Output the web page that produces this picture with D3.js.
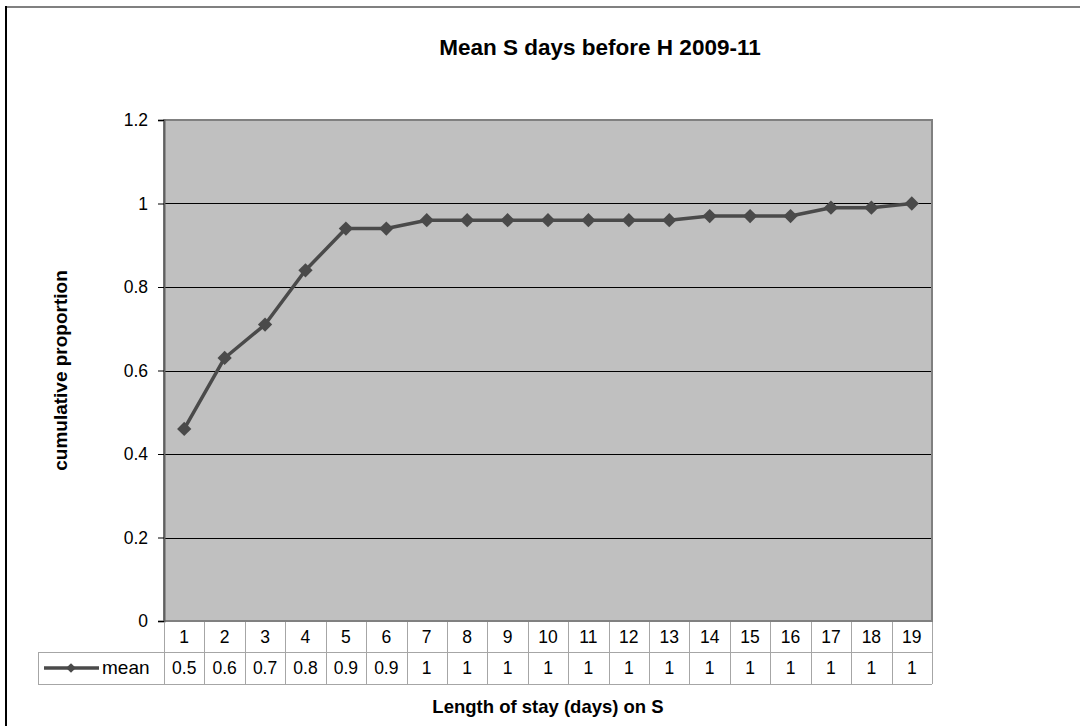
<!DOCTYPE html>
<html>
<head>
<meta charset="utf-8">
<script src="https://cdn.jsdelivr.net/npm/d3@7"></script>
<style>
  html, body { margin: 0; padding: 0; background: #fff; }
  svg { display: block; font-family: "Liberation Sans", Arial, sans-serif; }
</style>
</head>
<body>
<svg id="chart" width="1080" height="726"></svg>
<script>
// ---- data ----
const chartTitle = "Mean S days before H 2009-11";
const xAxisTitle = "Length of stay (days) on S";
const yAxisTitle = "cumulative proportion";
const seriesName = "mean";
const categories = ["1","2","3","4","5","6","7","8","9","10","11","12","13","14","15","16","17","18","19"];
const meanValues = [0.46, 0.63, 0.71, 0.84, 0.94, 0.94, 0.96, 0.96, 0.96, 0.96, 0.96, 0.96, 0.96, 0.97, 0.97, 0.97, 0.99, 0.99, 1.0];
const yTicks = [0, 0.2, 0.4, 0.6, 0.8, 1, 1.2];

// ---- layout ----
const W = 1080, H = 726;
const plot = { left: 164, right: 932, top: 120, bottom: 621 };
const row1Bottom = 652, row2Bottom = 684, legendLeft = 38;
const lineColor = "#4a4a4a";
const tableColor = "#a6a6a6";

const svg = d3.select("#chart");

const x = d3.scaleBand().domain(categories).range([plot.left, plot.right]).padding(0);
const y = d3.scaleLinear().domain([0, 1.2]).range([plot.bottom, plot.top]);

// chart outer border (top & left only visible)
svg.append("line").attr("x1", 6).attr("x2", W).attr("y1", 7).attr("y2", 7)
  .attr("stroke", "#808080").attr("stroke-width", 2);
svg.append("line").attr("x1", 6).attr("x2", 6).attr("y1", 6).attr("y2", H)
  .attr("stroke", "#000").attr("stroke-width", 2);

// plot background
svg.append("rect").attr("x", plot.left).attr("y", plot.top)
  .attr("width", plot.right - plot.left).attr("height", plot.bottom - plot.top)
  .attr("fill", "#c0c0c0");

// gridlines
svg.append("g").selectAll("line").data(yTicks.filter(d => d > 0 && d < 1.2)).join("line")
  .attr("x1", plot.left).attr("x2", plot.right)
  .attr("y1", d => Math.round(y(d)) + 0.5).attr("y2", d => Math.round(y(d)) + 0.5)
  .attr("stroke", "#000").attr("stroke-width", 1);

// plot border
svg.append("rect").attr("x", plot.left).attr("y", plot.top)
  .attr("width", plot.right - plot.left).attr("height", plot.bottom - plot.top)
  .attr("fill", "none").attr("stroke", "#808080").attr("stroke-width", 2);

// y axis
const yAxis = d3.axisLeft(y).tickValues(yTicks).tickSize(6).tickPadding(10)
  .tickFormat(d => String(d));
const gy = svg.append("g").attr("transform", `translate(${plot.left},0)`).call(yAxis);
gy.select(".domain").attr("stroke", "#606060").attr("stroke-width", 2);
gy.selectAll(".tick line").attr("stroke", "#000");
gy.selectAll(".tick text").attr("font-size", 17.5).attr("fill", "#000")
  .attr("font-family", "Liberation Sans, Arial, sans-serif");

// data table
const tbl = svg.append("g").attr("stroke", tableColor).attr("stroke-width", 1).attr("fill", "none");
tbl.append("line").attr("x1", plot.left).attr("x2", plot.right).attr("y1", row1Bottom + 0.5).attr("y2", row1Bottom + 0.5);
tbl.append("line").attr("x1", legendLeft).attr("x2", plot.left).attr("y1", row1Bottom + 0.5).attr("y2", row1Bottom + 0.5);
tbl.append("line").attr("x1", legendLeft).attr("x2", plot.right).attr("y1", row2Bottom + 0.5).attr("y2", row2Bottom + 0.5);
tbl.append("line").attr("x1", legendLeft + 0.5).attr("x2", legendLeft + 0.5).attr("y1", row1Bottom).attr("y2", row2Bottom);
const boundaries = categories.map(c => x(c)).concat([x(categories[categories.length - 1]) + x.bandwidth()]);
tbl.selectAll("line.v").data(boundaries).join("line").attr("class", "v")
  .attr("x1", d => Math.round(d) + 0.5).attr("x2", d => Math.round(d) + 0.5)
  .attr("y1", plot.bottom + 1).attr("y2", row2Bottom);

// category labels (row 1)
svg.append("g").selectAll("text").data(categories).join("text")
  .attr("x", d => x(d) + x.bandwidth() / 2).attr("y", 643)
  .attr("text-anchor", "middle").attr("font-size", 17.5).attr("fill", "#000")
  .text(d => d);

// values row (row 2)
const fmt = v => String(Math.round(v * 10) / 10);
svg.append("g").selectAll("text").data(meanValues).join("text")
  .attr("x", (d, i) => x(categories[i]) + x.bandwidth() / 2).attr("y", 674)
  .attr("text-anchor", "middle").attr("font-size", 17.5).attr("fill", "#000")
  .text(d => fmt(d));

// legend key in table
const lg = svg.append("g");
lg.append("line").attr("x1", 44).attr("x2", 99).attr("y1", 668).attr("y2", 668)
  .attr("stroke", lineColor).attr("stroke-width", 3.5);
lg.append("path").attr("d", d3.symbol(d3.symbolDiamond2, 60)())
  .attr("transform", "translate(71,668)").attr("fill", lineColor);
lg.append("text").attr("x", 102).attr("y", 674).attr("font-size", 19).attr("fill", "#000").text(seriesName);

// series line
const pts = meanValues.map((v, i) => [x(categories[i]) + x.bandwidth() / 2, y(v)]);
svg.append("path").datum(pts).attr("d", d3.line())
  .attr("fill", "none").attr("stroke", lineColor).attr("stroke-width", 3.5).attr("stroke-linejoin", "round");
svg.append("g").selectAll("path").data(pts).join("path")
  .attr("d", d3.symbol(d3.symbolDiamond2, 130)())
  .attr("transform", d => `translate(${d[0]},${d[1]})`)
  .attr("fill", lineColor);

// titles
svg.append("text").attr("x", 600).attr("y", 55).attr("text-anchor", "middle")
  .attr("font-size", 22.5).attr("font-weight", "bold").attr("fill", "#000").text(chartTitle);
svg.append("text").attr("x", 548).attr("y", 713).attr("text-anchor", "middle")
  .attr("font-size", 18.5).attr("font-weight", "bold").attr("fill", "#000").text(xAxisTitle);
svg.append("text").attr("transform", `translate(67,${(plot.top + plot.bottom) / 2}) rotate(-90)`)
  .attr("text-anchor", "middle")
  .attr("font-size", 19).attr("font-weight", "bold").attr("fill", "#000").text(yAxisTitle);
</script>
</body>
</html>
